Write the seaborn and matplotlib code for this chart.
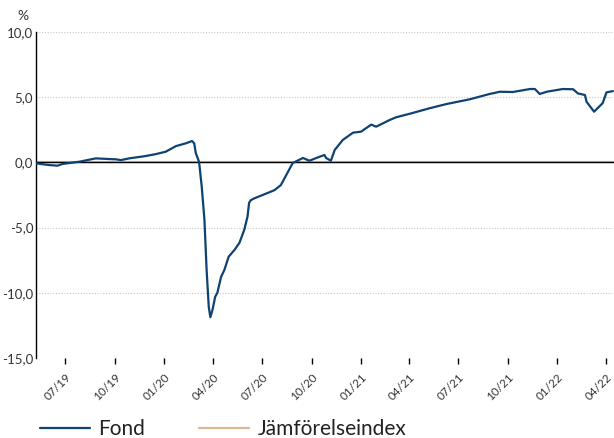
import matplotlib
matplotlib.use("Agg")
import matplotlib.pyplot as plt
import seaborn as sns
import pandas as pd
from matplotlib.lines import Line2D

dates = ["2019-05-08","2019-06-01","2019-06-17","2019-06-26","2019-07-27","2019-08-27",
         "2019-09-21","2019-10-03","2019-10-13","2019-10-28","2019-11-28","2019-12-17",
         "2020-01-04","2020-01-23","2020-02-10","2020-02-22","2020-02-26","2020-02-29",
         "2020-03-06","2020-03-11","2020-03-16","2020-03-20","2020-03-24","2020-03-27",
         "2020-03-31","2020-04-05","2020-04-09","2020-04-16","2020-04-22","2020-04-30",
         "2020-05-11","2020-05-20","2020-05-29","2020-06-04","2020-06-07","2020-06-10",
         "2020-06-17","2020-07-02","2020-07-24","2020-08-05","2020-08-15","2020-08-27",
         "2020-09-15","2020-09-27","2020-10-10","2020-10-25","2020-10-28","2020-11-06",
         "2020-11-13","2020-11-28","2020-12-17","2021-01-01","2021-01-20","2021-01-29",
         "2021-02-23","2021-03-07","2021-04-04","2021-05-08","2021-06-09","2021-07-22",
         "2021-08-28","2021-09-16","2021-10-10","2021-11-11","2021-11-20","2021-11-29",
         "2021-12-12","2022-01-11","2022-01-30","2022-02-08","2022-02-21","2022-02-24",
         "2022-03-10","2022-03-26","2022-04-02","2022-04-14"]
fond = [-0.07,-0.2,-0.25,-0.12,0.05,0.31,
        0.26,0.24,0.18,0.31,0.49,0.64,
        0.82,1.25,1.46,1.64,1.46,0.7,
        0.05,-1.86,-4.4,-8.2,-11.06,-11.87,
        -11.3,-10.3,-10.0,-8.77,-8.25,-7.23,
        -6.7,-6.17,-5.17,-4.16,-3.1,-2.9,
        -2.75,-2.5,-2.13,-1.74,-0.97,-0.05,
        0.34,0.13,0.34,0.57,0.34,0.13,
        0.95,1.72,2.28,2.36,2.9,2.74,
        3.25,3.46,3.76,4.15,4.48,4.84,
        5.25,5.42,5.40,5.63,5.63,5.25,
        5.42,5.63,5.61,5.29,5.17,4.65,
        3.89,4.55,5.37,5.47]
bench = [0.0] * len(dates)

yticks = [10, 5, 0, -5, -10, -15]
ytick_labels = ["10,0", "5,0", "0,0", "-5,0", "-10,0", "-15,0"]
xtick_dates = ["2019-07-01","2019-10-01","2020-01-01","2020-04-01","2020-07-01","2020-10-01",
               "2021-01-01","2021-04-01","2021-07-01","2021-10-01","2022-01-01","2022-04-01"]
xtick_labels = ["07/19","10/19","01/20","04/20","07/20","10/20",
                "01/21","04/21","07/21","10/21","01/22","04/22"]

df = pd.DataFrame({"date": pd.to_datetime(dates), "Fond": fond, "Jämförelseindex": bench})
long = df.melt(id_vars="date", var_name="serie", value_name="value")

sns.set_theme(style="white")
plt.rcParams["font.family"] = ["Lato", "DejaVu Sans"]

fig = plt.figure(figsize=(6.14, 4.38), dpi=100)
ax = fig.add_axes([0.0586, 0.1826, 0.9414, 0.7443])

blue = "#0e4272"
beige = "#dcb88f"
sns.lineplot(data=long, x="date", y="value", hue="serie",
             palette={"Fond": blue, "Jämförelseindex": beige},
             hue_order=["Jämförelseindex", "Fond"], ax=ax, linewidth=1.6, legend=False)
ax.axhline(0, color="black", linewidth=1.0, zorder=3)
ax.lines[1].set_zorder(4)

ax.set_ylim(-15, 10)
ax.set_xlim(pd.Timestamp("2019-05-08"), pd.Timestamp("2022-04-16"))
ax.set_yticks(yticks)
ax.set_yticklabels(ytick_labels, fontsize=9.5, color="#333333")
ax.set_xticks(pd.to_datetime(xtick_dates))
ax.set_xticklabels(xtick_labels, rotation=45, ha="right", rotation_mode="anchor",
                   fontsize=8.5, color="#333333")
ax.tick_params(axis="x", which="major", bottom=True, length=4, width=1, color="black", pad=6)
ax.tick_params(axis="y", length=0, pad=2)
ax.grid(axis="y", linestyle=(0, (1, 1.5)), color="#c8c8c8", linewidth=0.8)
ax.grid(axis="x", visible=False)
for s in ["top", "right", "bottom"]:
    ax.spines[s].set_visible(False)
ax.spines["left"].set_color("black")
ax.spines["left"].set_linewidth(1.0)
ax.set_xlabel("")
ax.set_ylabel("")

fig.text(0.028, 0.963, "%", fontsize=10, color="#333333", ha="left", va="center")

handles = [Line2D([], [], color=blue, linewidth=1.6), Line2D([], [], color=beige, linewidth=1.6)]
fig.legend(handles, ["Fond", "Jämförelseindex"], loc="center left",
           bbox_to_anchor=(0.065, 0.02), ncol=2, frameon=False, fontsize=15,
           handlelength=2.4, columnspacing=2.6, handletextpad=0.4,
           borderpad=0, borderaxespad=0, labelcolor="#222222")

fig.savefig("out.png", dpi=100)
